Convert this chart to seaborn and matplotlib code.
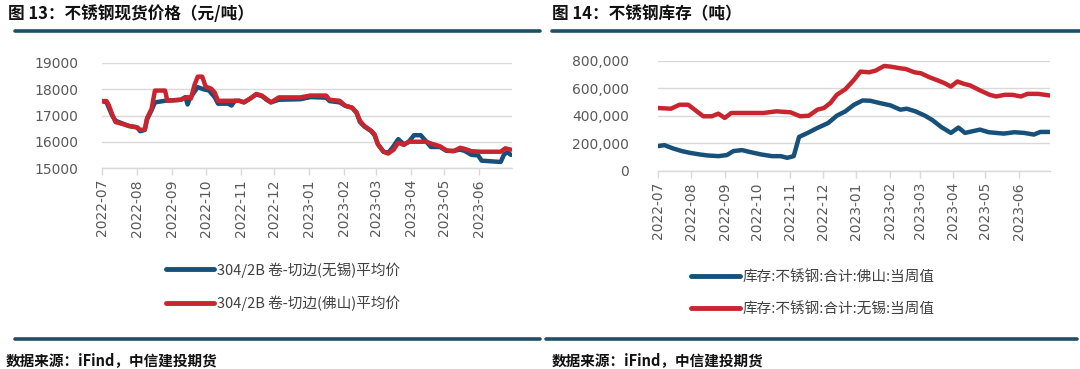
import numpy as np
import pandas as pd
import matplotlib
matplotlib.use("Agg")
import matplotlib.pyplot as plt
import matplotlib.dates as mdates
from matplotlib.lines import Line2D
import seaborn as sns

# ---------------- data ----------------
# Figure 13: 304/2B coil price (yuan/ton)
wuxi_price_dates = ["2022-07-01", "2022-07-05", "2022-07-10", "2022-07-13", "2022-07-19", "2022-07-25",
                    "2022-08-01", "2022-08-04", "2022-08-08", "2022-08-10", "2022-08-14", "2022-08-17",
                    "2022-08-26", "2022-09-09", "2022-09-13", "2022-09-15", "2022-09-17", "2022-09-21",
                    "2022-09-24", "2022-09-29", "2022-10-04", "2022-10-09", "2022-10-12", "2022-10-21",
                    "2022-10-24", "2022-10-27", "2022-10-31", "2022-11-04", "2022-11-09", "2022-11-15",
                    "2022-11-20", "2022-11-24", "2022-11-28", "2022-12-05", "2022-12-24", "2023-01-02",
                    "2023-01-16", "2023-01-19", "2023-01-28", "2023-02-02", "2023-02-08", "2023-02-12",
                    "2023-02-15", "2023-02-19", "2023-02-25", "2023-02-28", "2023-03-03", "2023-03-08",
                    "2023-03-12", "2023-03-16", "2023-03-21", "2023-03-26", "2023-03-30", "2023-04-04",
                    "2023-04-10", "2023-04-15", "2023-04-19", "2023-04-27", "2023-05-03", "2023-05-09",
                    "2023-05-15", "2023-05-19", "2023-05-25", "2023-05-31", "2023-06-03", "2023-06-20",
                    "2023-06-23", "2023-06-26", "2023-06-29"]
wuxi_price = [17550, 17500, 17000, 16800, 16700, 16600,
              16550, 16400, 16450, 16850, 17200, 17500,
              17560, 17600, 17700, 17420, 17650, 17900,
              18080, 18000, 17950, 17700, 17450, 17450,
              17380, 17560, 17560, 17500, 17630, 17800,
              17740, 17600, 17500, 17600, 17620, 17700,
              17680, 17550, 17500, 17370, 17300, 17100,
              16750, 16580, 16400, 16250, 15900, 15620,
              15580, 15780, 16100, 15900, 15980, 16250,
              16250, 16000, 15800, 15800, 15650, 15650,
              15700, 15650, 15500, 15480, 15280, 15230,
              15520, 15600, 15500]

foshan_price_dates = ["2022-07-01", "2022-07-05", "2022-07-07", "2022-07-10", "2022-07-13", "2022-07-19",
                      "2022-07-25", "2022-08-01", "2022-08-04", "2022-08-08", "2022-08-10", "2022-08-14",
                      "2022-08-17", "2022-08-26", "2022-08-28", "2022-09-09", "2022-09-15", "2022-09-18",
                      "2022-09-21", "2022-09-24", "2022-09-28", "2022-10-01", "2022-10-06", "2022-10-09",
                      "2022-10-12", "2022-10-31", "2022-11-04", "2022-11-09", "2022-11-15", "2022-11-20",
                      "2022-11-24", "2022-11-28", "2022-12-05", "2022-12-24", "2023-01-02", "2023-01-16",
                      "2023-01-19", "2023-01-28", "2023-02-02", "2023-02-08", "2023-02-12", "2023-02-15",
                      "2023-02-19", "2023-02-25", "2023-02-28", "2023-03-03", "2023-03-08", "2023-03-12",
                      "2023-03-17", "2023-03-21", "2023-03-26", "2023-03-30", "2023-04-15", "2023-04-20",
                      "2023-04-27", "2023-05-03", "2023-05-09", "2023-05-15", "2023-05-19", "2023-05-25",
                      "2023-06-02", "2023-06-20", "2023-06-24", "2023-06-29"]
foshan_price = [17550, 17550, 17400, 17050, 16750, 16680,
                16600, 16550, 16450, 16470, 16900, 17250,
                17950, 17950, 17560, 17600, 17700, 17650,
                18150, 18480, 18480, 18100, 18020, 17880,
                17560, 17560, 17500, 17630, 17820, 17760,
                17630, 17500, 17690, 17690, 17760, 17760,
                17600, 17560, 17370, 17300, 17120, 16800,
                16600, 16420, 16280, 15900, 15620, 15550,
                15700, 15960, 15880, 16000, 16000, 15920,
                15830, 15670, 15640, 15770, 15730, 15640,
                15620, 15620, 15750, 15700]

# Figure 14: stainless steel inventory (tons)
foshan_stock_dates = ["2022-07-01", "2022-07-07", "2022-07-15", "2022-07-23", "2022-07-30", "2022-08-09",
                      "2022-08-16", "2022-08-26", "2022-09-03", "2022-09-09", "2022-09-17", "2022-09-25",
                      "2022-10-05", "2022-10-15", "2022-10-23", "2022-10-29", "2022-11-04", "2022-11-09",
                      "2022-11-17", "2022-11-26", "2022-12-06", "2022-12-14", "2022-12-22", "2022-12-30",
                      "2023-01-07", "2023-01-14", "2023-01-23", "2023-02-02", "2023-02-11", "2023-02-17",
                      "2023-02-25", "2023-03-06", "2023-03-13", "2023-03-21", "2023-03-30", "2023-04-06",
                      "2023-04-12", "2023-04-26", "2023-05-04", "2023-05-18", "2023-05-28", "2023-06-06",
                      "2023-06-15", "2023-06-21", "2023-06-30"]
foshan_stock = [181000, 188000, 164000, 145000, 133000, 120000,
                113000, 108000, 116000, 145000, 152000, 137000,
                120000, 108000, 108000, 96000, 108000, 248000,
                277000, 313000, 349000, 402000, 434000, 482000,
                513000, 511000, 494000, 477000, 446000, 453000,
                434000, 402000, 369000, 320000, 277000, 316000,
                277000, 301000, 282000, 272000, 282000, 277000,
                265000, 284000, 284000]

wuxi_stock_dates = ["2022-07-01", "2022-07-13", "2022-07-21", "2022-07-29", "2022-08-04", "2022-08-12",
                    "2022-08-20", "2022-08-26", "2022-09-01", "2022-09-07", "2022-09-21", "2022-10-07",
                    "2022-10-19", "2022-11-01", "2022-11-10", "2022-11-18", "2022-11-26", "2022-12-02",
                    "2022-12-08", "2022-12-14", "2022-12-22", "2022-12-30", "2023-01-05", "2023-01-13",
                    "2023-01-19", "2023-01-27", "2023-02-02", "2023-02-11", "2023-02-16", "2023-02-24",
                    "2023-03-02", "2023-03-10", "2023-03-18", "2023-03-24", "2023-03-30", "2023-04-05",
                    "2023-04-11", "2023-04-17", "2023-04-25", "2023-05-05", "2023-05-11", "2023-05-19",
                    "2023-05-26", "2023-06-03", "2023-06-09", "2023-06-19", "2023-06-30"]
wuxi_stock = [458000, 453000, 482000, 482000, 446000, 398000,
              398000, 417000, 386000, 422000, 422000, 422000,
              434000, 427000, 398000, 402000, 446000, 458000,
              494000, 554000, 595000, 663000, 723000, 718000,
              730000, 764000, 759000, 747000, 742000, 718000,
              711000, 682000, 658000, 639000, 614000, 651000,
              634000, 622000, 590000, 554000, 542000, 554000,
              554000, 542000, 561000, 561000, 549000]

price_labels = ["304/2B 卷-切边(无锡)平均价", "304/2B 卷-切边(佛山)平均价"]
stock_labels = ["库存:不锈钢:合计:佛山:当周值", "库存:不锈钢:合计:无锡:当周值"]
price_yticks = [15000, 16000, 17000, 18000, 19000]
stock_yticks = [0, 200000, 400000, 600000, 800000]
titles = ["图 13：不锈钢现货价格（元/吨）", "图 14：不锈钢库存（吨）"]
source = "数据来源：iFind，中信建投期货"

# ---------------- style ----------------
sns.set_theme(style="white")
plt.rcParams["font.family"] = ["Noto Sans CJK SC", "DejaVu Sans"]

BLUE = "#17507a"
RED = "#c8252f"
GRID = "#d9d9d9"
TXT = "#595959"
RULE = "#1f4e66"

price_df = pd.concat([
    pd.DataFrame({"date": pd.to_datetime(wuxi_price_dates), "value": wuxi_price, "series": price_labels[0]}),
    pd.DataFrame({"date": pd.to_datetime(foshan_price_dates), "value": foshan_price, "series": price_labels[1]}),
])
stock_df = pd.concat([
    pd.DataFrame({"date": pd.to_datetime(foshan_stock_dates), "value": foshan_stock, "series": stock_labels[0]}),
    pd.DataFrame({"date": pd.to_datetime(wuxi_stock_dates), "value": wuxi_stock, "series": stock_labels[1]}),
])

W, H = 1080, 369
fig = plt.figure(figsize=(W / 100, H / 100), dpi=100)


def px_axes(x0, x1, ytop, ybot):
    return fig.add_axes([x0 / W, 1 - ybot / H, (x1 - x0) / W, (ybot - ytop) / H])


ax1 = px_axes(102, 512, 63, 168)
ax2 = px_axes(658, 1050, 61, 171)

for ax, df, labels, yticks, fmt, ypad in [
    (ax1, price_df, price_labels, price_yticks, lambda v, p: f"{int(v)}", 11),
    (ax2, stock_df, stock_labels, stock_yticks, lambda v, p: f"{int(v):,}", 15),
]:
    sns.lineplot(data=df, x="date", y="value", hue="series", hue_order=labels,
                 palette=[BLUE, RED], linewidth=3.2, ax=ax, legend=False,
                 sort=False, estimator=None)
    ax.set_xlim(pd.Timestamp("2022-07-01"), pd.Timestamp("2023-06-30"))
    ax.set_ylim(yticks[0], yticks[-1])
    ax.set_yticks(yticks)
    ax.yaxis.set_major_formatter(matplotlib.ticker.FuncFormatter(fmt))
    ax.xaxis.set_major_locator(mdates.MonthLocator())
    ax.xaxis.set_major_formatter(mdates.DateFormatter("%Y-%m"))
    ax.grid(axis="y", color=GRID, linewidth=1)
    ax.set_axisbelow(True)
    for s in ["top", "right", "left"]:
        ax.spines[s].set_visible(False)
    ax.spines["bottom"].set_color(GRID)
    ax.spines["bottom"].set_linewidth(1)
    ax.tick_params(axis="x", which="major", bottom=True, length=5, width=1, color=GRID,
                   labelsize=10, labelcolor=TXT, rotation=90, pad=3)
    ax.tick_params(axis="y", left=False, labelsize=10, labelcolor=TXT, pad=ypad)
    for lab in ax.get_xticklabels() + ax.get_yticklabels():
        lab.set_family("DejaVu Sans")
    ax.set_xlabel("")
    ax.set_ylabel("")

# legends
for ax, labels, cx, ytop in [(ax1, price_labels, 283, 262), (ax2, stock_labels, 813, 270)]:
    handles = [Line2D([0], [0], color=BLUE, lw=3.5), Line2D([0], [0], color=RED, lw=3.5)]
    ax.legend(handles, labels, loc="upper center", bbox_to_anchor=(cx / W, 1 - ytop / H),
              bbox_transform=fig.transFigure, frameon=False, fontsize=10.5,
              handlelength=3.3, handletextpad=0.2, labelspacing=1.25,
              borderpad=0, borderaxespad=0, labelcolor="#404040")

# titles and rules
for x, t in [(8, titles[0]), (552, titles[1])]:
    fig.text(x / W, 1 - 14 / H, t, fontsize=12, fontweight="bold", color="#111111",
             va="center", ha="left")
fig.add_artist(Line2D([15 / W, 540 / W], [1 - 31 / H] * 2, color=RULE, lw=2.6, transform=fig.transFigure))
fig.add_artist(Line2D([552 / W, 1080 / W], [1 - 31 / H] * 2, color=RULE, lw=2.6, transform=fig.transFigure))
fig.add_artist(Line2D([15 / W, 540 / W], [1 - 339 / H] * 2, color=RULE, lw=2.6, transform=fig.transFigure))
fig.add_artist(Line2D([546 / W, 1077 / W], [1 - 339 / H] * 2, color=RULE, lw=2.6, transform=fig.transFigure))

for x in [6, 552]:
    fig.text(x / W, 1 - 360 / H, source, fontsize=10.5, fontweight="bold", fontstyle="italic",
             color="#111111", va="center", ha="left")

fig.savefig("out.png", dpi=100, facecolor="white")
